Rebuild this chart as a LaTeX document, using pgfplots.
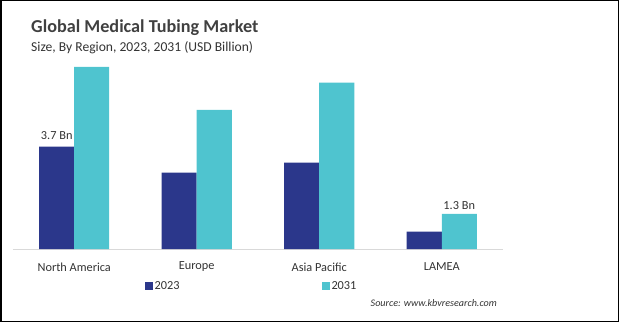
\documentclass[border=0pt]{standalone}
\usepackage{fontspec}
\setmainfont{Carlito}
\usepackage{pgfplots}
\pgfplotsset{compat=1.18}
\definecolor{cA}{HTML}{2B378B}
\definecolor{cB}{HTML}{4FC4CF}
\definecolor{txt}{HTML}{333333}
\begin{document}
\begin{tikzpicture}[x=1pt,y=1pt]
\path[use as bounding box] (0,0) rectangle (619,322);
\draw[black,line width=1.5pt] (0.75,0.75) rectangle (618.25,321.25);
\node[anchor=west,inner sep=0pt,font=\bfseries\fontsize{18.2}{20}\selectfont,text=black!75] at (31,294) {Global Medical Tubing Market};
\node[anchor=west,inner sep=0pt,font=\fontsize{13.6}{15}\selectfont,text=txt] at (31,274.5) {Size, By Region, 2023, 2031 (USD Billion)};
\node[anchor=east,inner sep=0pt,font=\itshape\fontsize{10.1}{12}\selectfont,text=txt] at (497,19.3) {Source: www.kbvresearch.com};
\begin{axis}[at={(13pt,73pt)}, anchor=south west, scale only axis,
  width=490pt, height=200pt,
  xmin=-0.5, xmax=3.5, ymin=0, ymax=7.234,
  axis x line=bottom, axis y line=none,
  x axis line style={-, draw=black!15, line width=1pt},
  ybar=0pt, bar width=35pt,
  xtick={0,1,2,3}, xticklabels={North America,Europe,Asia Pacific,LAMEA},
  major tick length=0pt,
  xticklabel style={anchor=center, yshift=-18pt, font=\fontsize{12.3}{14}\selectfont, text=txt},
  legend columns=2,
  legend style={draw=none, at={(0.262,-0.185)}, anchor=west, font=\fontsize{12.3}{14}\selectfont, text=txt,
    /tikz/every even column/.append style={column sep=140pt}},
  legend image code/.code={\fill[#1] (0pt,-4pt) rectangle (8pt,4pt);},
  nodes near coords, point meta=explicit symbolic,
  every node near coord/.append style={font=\fontsize{12.3}{14}\selectfont, text=txt},
]
\addplot[fill=cA, draw=none, every node near coord/.append style={yshift=4pt}] coordinates {(0,3.7) [3.7 Bn] (1,2.76) [] (2,3.12) [] (3,0.63) []};
\addplot[fill=cB, draw=none, every node near coord/.append style={yshift=1pt}] coordinates {(0,6.59) [] (1,5.03) [] (2,6.02) [] (3,1.27) [1.3 Bn]};
\legend{2023,2031}
\end{axis}
\end{tikzpicture}
\end{document}
